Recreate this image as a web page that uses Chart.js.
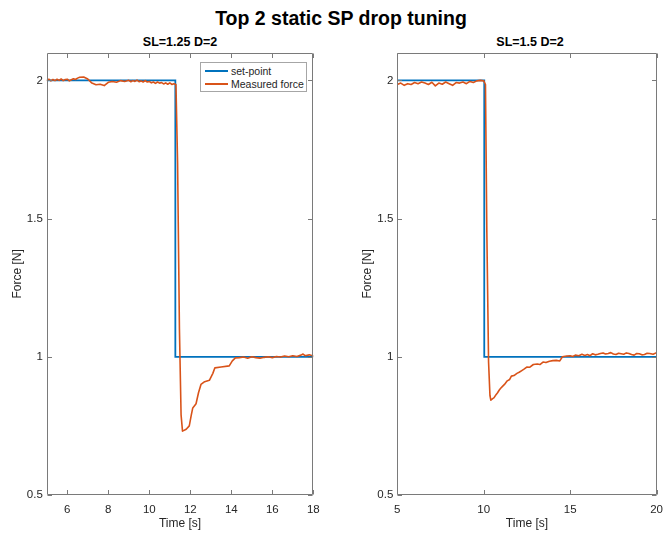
<!DOCTYPE html>
<html>
<head>
<meta charset="utf-8">
<script src="https://cdn.jsdelivr.net/npm/chart.js@4"></script>
<style>
  body { margin: 0; background: #fff; font-family: "Liberation Sans", Arial, sans-serif; }
  #wrap { position: relative; width: 671px; height: 533px; overflow: hidden; }
  canvas { position: absolute; top: 0; }
  .title { position: absolute; white-space: nowrap; color: #000; font-weight: bold; transform: translate(-50%, -50%); }
  #legend { position: absolute; left: 200px; top: 62px; width: 105px; height: 28px; border: 1px solid #a6a6a6; background: #fff; font-size: 10.5px; color: #262626; }
  .entry { position: absolute; left: 0; height: 14px; }
  .entry span.line { position: absolute; left: 4px; top: 6px; width: 23px; height: 2px; }
  .entry span.txt { position: absolute; left: 30px; top: 0; line-height: 14px; white-space: nowrap; }
</style>
</head>
<body>
<div id="wrap">
  <div class="title" style="left:341px; top:18px; font-size:19.5px;">Top 2 static SP drop tuning</div>
  <div class="title" style="left:180px; top:42px; font-size:12.5px;">SL=1.25 D=2</div>
  <div class="title" style="left:530px; top:42px; font-size:12.5px;">SL=1.5 D=2</div>
  <canvas id="left" width="335" height="533" style="left:0px"></canvas>
  <canvas id="right" width="321" height="533" style="left:350px"></canvas>
  <div id="legend"></div>
</div>
<script>
// ---- data ----
let seriesNames = ["set-point", "Measured force"];
let yTicks = [0.5, 1, 1.5, 2];

// left panel: SL=1.25 D=2
let xTicksLeft = [6, 8, 10, 12, 14, 16, 18];
let spTimeLeft = [5, 11.27, 11.27, 18];
let spForceLeft = [2, 2, 1, 1];
let measTimeLeft = [5.0, 5.1, 5.2, 5.3, 5.4, 5.5, 5.6, 5.7, 5.8, 5.9, 6.0, 6.1, 6.2, 6.3, 6.4, 6.5, 6.6, 6.8, 7.0, 7.2, 7.4, 7.6, 7.8, 8.0, 8.2, 8.4, 8.6, 8.8,
  9.0, 9.1, 9.2, 9.3, 9.4, 9.5, 9.6, 9.7, 9.8, 9.9, 10.0, 10.1, 10.2, 10.3, 10.4, 10.5, 10.6, 10.7, 10.8, 10.9, 11.0, 11.1, 11.2,
  11.3, 11.38, 11.47, 11.55, 11.62,
  11.8, 11.95, 12.05, 12.12, 12.28, 12.4, 12.52, 12.7, 12.93, 13.1, 13.2, 13.5, 13.9, 14.05, 14.2,
  14.4, 14.6, 14.8, 15.0, 15.2, 15.4, 15.6, 15.8, 16.0, 16.2, 16.4, 16.6, 16.8, 17.0, 17.2, 17.4, 17.5, 17.6, 17.8, 18.0];
let measForceLeft = [2.000, 2.004, 1.998, 2.003, 1.999, 2.004, 2.000, 2.005, 1.999, 2.003, 2.004, 1.998, 2.002, 2.006, 2.003, 2.008, 2.011, 2.012, 2.005, 1.990, 1.984, 1.986, 1.981, 1.993, 1.996, 1.993, 1.999, 1.996,
  2.000, 1.995, 1.999, 1.996, 2.001, 1.995, 1.998, 1.994, 1.999, 1.994, 1.996, 1.991, 1.994, 1.989, 1.994, 1.990, 1.992, 1.987, 1.991, 1.986, 1.991, 1.985, 1.988,
  1.985, 1.700, 1.100, 0.790, 0.731,
  0.738, 0.750, 0.790, 0.815, 0.830, 0.870, 0.900, 0.910, 0.915, 0.940, 0.960, 0.963, 0.967, 0.985, 0.996,
  0.997, 0.999, 0.995, 1.000, 0.997, 0.995, 0.998, 1.000, 0.997, 1.001, 0.999, 1.003, 1.000, 1.004, 1.001, 1.006, 1.010, 1.004, 1.007, 1.003];

// right panel: SL=1.5 D=2
let xTicksRight = [5, 10, 15, 20];
let spTimeRight = [5, 10.03, 10.03, 20];
let spForceRight = [2, 2, 1, 1];
let measTimeRight = [5.0, 5.2, 5.4, 5.6, 5.8, 6.0, 6.2, 6.4, 6.6, 6.8, 7.0, 7.2, 7.4, 7.6, 7.8, 8.0, 8.2, 8.4, 8.6, 8.8,
  9.0, 9.2, 9.4, 9.6, 9.8, 10.0,
  10.1, 10.18, 10.28, 10.36, 10.41,
  10.5, 10.6, 10.7, 10.8, 10.9, 10.98, 11.1, 11.2, 11.36, 11.5, 11.6, 11.75, 11.92, 12.05, 12.2, 12.35, 12.49, 12.65, 12.87, 13.1, 13.25, 13.43, 13.6, 13.8, 14.0, 14.2, 14.4, 14.55, 14.8, 15.0, 15.15, 15.3, 15.5, 15.68,
  15.85, 16.0, 16.15, 16.3, 16.45, 16.6, 16.75, 16.9, 17.05, 17.2, 17.35, 17.5, 17.65, 17.8, 17.95, 18.1, 18.25, 18.4, 18.55, 18.7, 18.85, 19.0, 19.15, 19.3, 19.45, 19.6, 19.8, 20.0];
let measForceRight = [1.985, 1.990, 1.982, 1.988, 1.985, 1.992, 1.988, 1.994, 1.990, 1.985, 1.993, 1.980, 1.990, 1.986, 1.994, 1.988, 1.982, 1.992, 1.990, 1.994,
  1.988, 1.996, 1.992, 1.998, 2.000, 1.998,
  1.985, 1.450, 0.980, 0.860, 0.843,
  0.848, 0.852, 0.862, 0.870, 0.880, 0.886, 0.894, 0.900, 0.913, 0.918, 0.930, 0.932, 0.940, 0.944, 0.950, 0.956, 0.963, 0.962, 0.972, 0.974, 0.972, 0.981, 0.979, 0.984, 0.986, 0.987, 0.985, 1.000, 1.003, 1.004, 1.001, 1.006, 1.004, 1.009,
  1.005, 1.008, 1.004, 1.011, 1.007, 1.009, 1.012, 1.014, 1.010, 1.012, 1.015, 1.010, 1.008, 1.013, 1.011, 1.009, 1.014, 1.012, 1.008, 1.006, 1.012, 1.011, 1.007, 1.008, 1.013, 1.012, 1.009, 1.015];

let colors = ["#0072BD", "#D95319"];
let axisColor = "#7a7a7a";
let textColor = "#262626";

function toPoints(times, values) {
    return times.map((t, i) => ({ x: t, y: values[i] }));
}

// box around the axes + inward tick marks, like matlab
const matlabBox = {
    id: "matlabBox",
    afterDraw(chart) {
        let ctx = chart.ctx;
        let a = chart.chartArea;
        let xs = chart.scales.x, ys = chart.scales.y;
        let L = Math.round(a.left) + 0.5, R = Math.round(a.right) - 0.5;
        let T = Math.round(a.top) + 0.5, B = Math.round(a.bottom) - 0.5;
        let len = 4.5;
        ctx.save();
        ctx.strokeStyle = axisColor;
        ctx.lineWidth = 1;
        ctx.beginPath();
        ctx.rect(L, T, R - L, B - T);
        xs.ticks.forEach(t => {
            let px = Math.round(xs.getPixelForValue(t.value)) + 0.5;
            ctx.moveTo(px, B); ctx.lineTo(px, B - len);
            ctx.moveTo(px, T); ctx.lineTo(px, T + len);
        });
        ys.ticks.forEach(t => {
            let py = Math.round(ys.getPixelForValue(t.value)) + 0.5;
            ctx.moveTo(L, py); ctx.lineTo(L + len, py);
            ctx.moveTo(R, py); ctx.lineTo(R - len, py);
        });
        ctx.stroke();
        ctx.restore();
    }
};

function makePanel(canvasId, spT, spF, mT, mF, xMin, xMax, xTicks, yWidth, padRight) {
    let ctx = document.getElementById(canvasId).getContext("2d");
    return new Chart(ctx, {
        type: "line",
        data: {
            datasets: [
                { label: seriesNames[0], data: toPoints(spT, spF), borderColor: colors[0], borderWidth: 1.8, pointRadius: 0, order: 1 },
                { label: seriesNames[1], data: toPoints(mT, mF), borderColor: colors[1], borderWidth: 1.6, pointRadius: 0, order: 0,
                  borderJoinStyle: "round", borderCapStyle: "round" }
            ]
        },
        options: {
            responsive: false,
            animation: false,
            devicePixelRatio: 1,
            layout: { padding: { top: 52.7, right: padRight, bottom: 0, left: 0 } },
            plugins: { legend: { display: false }, tooltip: { enabled: false }, title: { display: false } },
            elements: { line: { tension: 0 } },
            scales: {
                x: {
                    type: "linear", min: xMin, max: xMax,
                    grid: { display: false, drawTicks: false },
                    border: { display: false },
                    afterBuildTicks: s => { s.ticks = xTicks.map(v => ({ value: v })); },
                    afterFit: s => { s.height = 38; },
                    ticks: { padding: 8, color: textColor, font: { family: "Liberation Sans", size: 11.5 }, maxRotation: 0, callback: v => String(v) },
                    title: { display: true, text: "Time [s]", color: textColor, font: { family: "Liberation Sans", size: 12 }, padding: { top: 0, bottom: 2 } }
                },
                y: {
                    type: "linear", min: 0.5, max: 2.1,
                    grid: { display: false, drawTicks: false },
                    border: { display: false },
                    afterBuildTicks: s => { s.ticks = yTicks.map(v => ({ value: v })); },
                    afterFit: s => { s.width = yWidth; },
                    ticks: { padding: 4, color: textColor, font: { family: "Liberation Sans", size: 11.5 }, callback: v => String(v) },
                    title: { display: true, text: "Force [N]", color: textColor, font: { family: "Liberation Sans", size: 12 }, padding: { top: 10.8, bottom: 0 } }
                }
            }
        },
        plugins: [matlabBox]
    });
}

let leftChart = makePanel("left", spTimeLeft, spForceLeft, measTimeLeft, measForceLeft, 5, 18, xTicksLeft, 46.8, 21.7);
let rightChart = makePanel("right", spTimeRight, spForceRight, measTimeRight, measForceRight, 5, 20, xTicksRight, 47.3, 7.7);

// legend box (left panel only)
let legend = document.getElementById("legend");
seriesNames.forEach((name, i) => {
    let e = document.createElement("div");
    e.className = "entry";
    e.style.top = (1 + i * 13) + "px";
    e.innerHTML = '<span class="line" style="background:' + colors[i] + '"></span><span class="txt">' + name + '</span>';
    legend.appendChild(e);
});
</script>
</body>
</html>
